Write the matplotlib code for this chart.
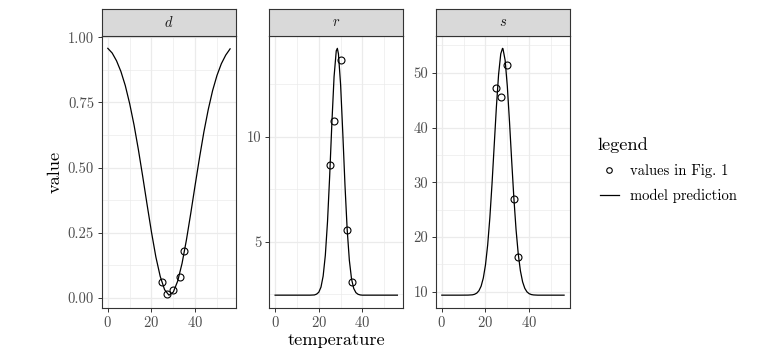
import matplotlib
matplotlib.use("Agg")
import matplotlib.pyplot as plt
from matplotlib.lines import Line2D
from matplotlib.ticker import FixedLocator, StrMethodFormatter

plt.rcParams['font.family'] = 'cmr10'
plt.rcParams['mathtext.fontset'] = 'cm'
plt.rcParams['axes.formatter.use_mathtext'] = True

# observed values (Fig. 1)
obs_temp = [25, 27, 30, 33, 35]
obs_d = [0.059, 0.013, 0.029, 0.080, 0.179]
obs_r = [8.67, 10.74, 13.64, 5.54, 3.10]
obs_s = [47.3, 45.6, 51.5, 26.9, 16.4]

# model prediction
temp_d = [0, 2, 4, 6, 8, 10, 12, 14, 16, 18, 20, 22, 24, 26, 28,
          30, 32, 34, 36, 38, 40, 42, 44, 46, 48, 50, 52, 54, 56]
pred_d = [0.958, 0.940, 0.910, 0.869, 0.815, 0.746, 0.664, 0.569, 0.465, 0.357,
          0.252, 0.157, 0.082, 0.031, 0.010, 0.022, 0.064, 0.132, 0.222, 0.325,
          0.433, 0.538, 0.637, 0.723, 0.796, 0.854, 0.899, 0.932, 0.956]

temp_r = [0, 4, 8, 12, 16, 18, 19, 20, 21, 22, 23, 24, 25, 26, 27, 28, 28.5,
          29, 30, 31, 32, 33, 34, 35, 36, 37, 38, 39, 40, 44, 48, 52, 56]
pred_r = [2.45, 2.45, 2.45, 2.45, 2.45, 2.46, 2.50, 2.59, 2.83, 3.36, 4.35, 5.95,
          8.15, 10.65, 12.85, 14.08, 14.20, 13.94, 12.46, 10.15, 7.68, 5.58, 4.11,
          3.22, 2.77, 2.57, 2.49, 2.46, 2.45, 2.45, 2.45, 2.45, 2.45]

temp_s = [0, 4, 8, 12, 14, 15, 16, 17, 18, 19, 20, 21, 22, 23, 24, 25, 26, 27,
          27.8, 28, 29, 30, 31, 32, 33, 34, 35, 36, 37, 38, 39, 40, 41, 42, 44,
          48, 52, 56]
pred_s = [9.40, 9.40, 9.40, 9.41, 9.46, 9.56, 9.77, 10.21, 11.04, 12.52, 14.93,
          18.55, 23.52, 29.76, 36.78, 43.77, 49.68, 53.46, 54.45, 54.39, 52.27,
          47.53, 41.05, 33.92, 27.13, 21.37, 16.94, 13.83, 11.83, 10.65, 10.00,
          9.67, 9.51, 9.44, 9.40, 9.40, 9.40, 9.40]

panels = [
    ("d", temp_d, pred_d, obs_d, [0, 0.25, 0.5, 0.75, 1.0],
     [0.125, 0.375, 0.625, 0.875], "{x:.2f}"),
    ("r", temp_r, pred_r, obs_r, [5, 10], [2.5, 7.5, 12.5], "{x:.0f}"),
    ("s", temp_s, pred_s, obs_s, [10, 20, 30, 40, 50],
     [15, 25, 35, 45, 55], "{x:.0f}"),
]

W, H = 766, 351
fig = plt.figure(figsize=(W / 100, H / 100), dpi=100)

lefts = [101.7, 269.0, 435.7]
pw = 134.5
ptop, pbot = 36.0, 307.5
strip_h = 27.5
dark = "#333333"
grid = "#EBEBEB"

for left, (name, tt, pp, obs, major, minor, fmt) in zip(lefts, panels):
    ax = fig.add_axes([left / W, 1 - pbot / H, pw / W, (pbot - ptop) / H])
    ax.plot(tt, pp, color="black", lw=0.9, zorder=3)
    ax.plot(obs_temp, obs, ls="none", marker="o", ms=5, mfc="none",
            mec="black", mew=0.8, zorder=4)
    ax.margins(0.05)
    ax.xaxis.set_major_locator(FixedLocator([0, 20, 40]))
    ax.xaxis.set_minor_locator(FixedLocator([10, 30, 50]))
    ax.yaxis.set_major_locator(FixedLocator(major))
    ax.yaxis.set_minor_locator(FixedLocator(minor))
    ax.yaxis.set_major_formatter(StrMethodFormatter(fmt))
    ax.grid(True, which="major", color=grid, lw=0.9, zorder=0)
    ax.grid(True, which="minor", color=grid, lw=0.5, zorder=0)
    ax.set_axisbelow(True)
    ax.tick_params(which="major", length=3, width=0.7, color=dark,
                   labelcolor="#4D4D4D", labelsize=10.5, pad=2.5)
    ax.tick_params(which="minor", length=0)
    for sp in ax.spines.values():
        sp.set_color(dark)
        sp.set_linewidth(0.8)

    sax = fig.add_axes([left / W, 1 - ptop / H, pw / W, strip_h / H])
    sax.set_facecolor("#D9D9D9")
    sax.set_xticks([])
    sax.set_yticks([])
    for sp in sax.spines.values():
        sp.set_color(dark)
        sp.set_linewidth(0.8)
    sax.text(0.5, 0.5, f"${name}$", ha="center", va="center",
             fontsize=10.5, color="#1A1A1A", transform=sax.transAxes)

fig.text(55 / W, 1 - 171.75 / H, "value", rotation=90, ha="center",
         va="center", fontsize=13.2)
fig.text(336 / W, 1 - 340 / H, "temperature", ha="center", va="center",
         fontsize=13.2)

# legend: title as text, entries below
fig.text(597 / W, 1 - 145 / H, "legend", ha="left", va="center", fontsize=13.2)
handles = [
    Line2D([], [], ls="none", marker="o", ms=4, mfc="none", mec="black", mew=0.8),
    Line2D([], [], color="black", lw=0.9),
]
fig.legend(handles, ["values in Fig. 1", "model prediction"],
           loc="upper left", bbox_to_anchor=(600 / W, 1 - 164 / H),
           frameon=False, fontsize=10.5,
           handlelength=1.3, handletextpad=0.75, labelspacing=0.75,
           borderpad=0, borderaxespad=0)

fig.savefig("out.png", dpi=100)
